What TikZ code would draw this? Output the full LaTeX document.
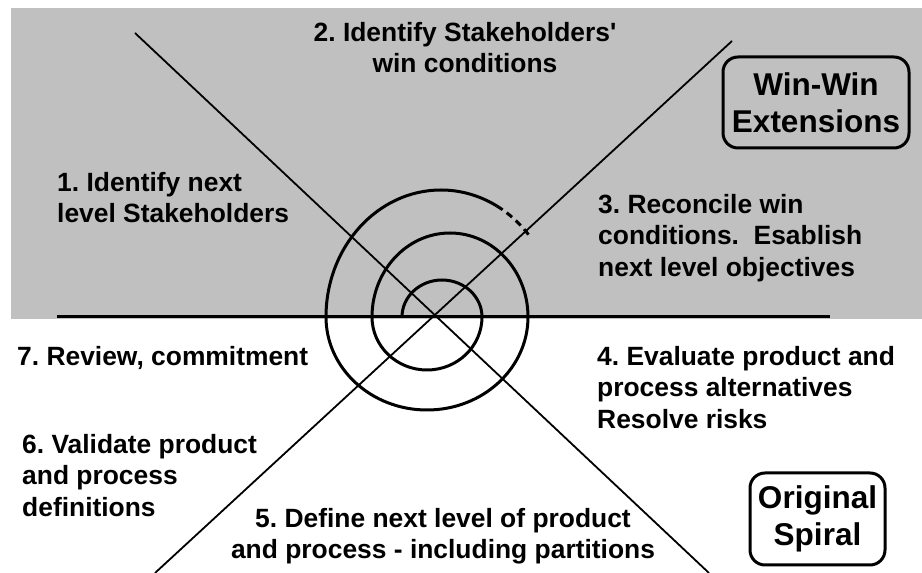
\documentclass[tikz,border=0pt]{standalone}
\usepackage{fontspec}
\setmainfont{Liberation Sans}
\frenchspacing
\definecolor{panelgray}{RGB}{192,192,192}
\tikzset{
    steptext/.style={font=\bfseries\fontsize{26.4}{31.5}\selectfont, inner sep=0pt, align=left, anchor=north west},
    tagbox/.style={draw, line width=3pt, rounded corners=15pt, align=center, inner sep=0pt, font=\bfseries\fontsize{31.5}{37}\selectfont},
    spiral/.style={line width=3pt},
    axis/.style={line width=1.8pt}
}
\begin{document}
\begin{tikzpicture}[x=1pt, y=1pt]
        \useasboundingbox (0,0) rectangle (922,573);
        \fill[panelgray] (11,254) rectangle (922,565);
        % horizontal line
        \draw[line width=3pt] (57,256) -- (830,256);
        % diagonal lines
        \draw[axis] (135,540) -- (709,0);
        \draw[axis] (732,532) -- (155,0);
        % spiral from the centre outwards
        \draw[spiral] (402,256)
            arc[start angle=180, end angle=0, x radius=40, y radius=37]
            arc[start angle=0, end angle=-180, x radius=55, y radius=53]
            arc[start angle=180, end angle=0, x radius=78, y radius=84]
            arc[start angle=0, end angle=-180, x radius=101, y radius=93]
            arc[start angle=180, end angle=61, x radius=115, y radius=127] coordinate (spiralend);
        \draw[spiral, dash pattern=on 7pt off 5pt] (spiralend)
            arc[start angle=61, end angle=39, x radius=115, y radius=127];
        % steps of the cycle
        \node[steptext] (stepone) at (57,404) {\strut 1. Identify next\\level Stakeholders};
        \node[steptext, align=center, anchor=north] (steptwo) at (465,554) {\strut 2. Identify Stakeholders\textquotesingle\\win conditions};
        \node[steptext] (stepthree) at (598,382) {\strut 3. Reconcile win\\conditions.\ \ Esablish\\next level objectives};
        \node[steptext] (stepfour) at (597,230) {\strut 4. Evaluate product and\\process alternatives\\Resolve risks};
        \node[steptext, align=center, anchor=north] (stepfive) at (443,68) {\strut 5. Define next level of product\\and process - including partitions};
        \node[steptext] (stepsix) at (22,142) {\strut 6. Validate product\\and process\\definitions};
        \node[steptext] (stepseven) at (17,230) {\strut 7. Review, commitment};
        % labels of the two halves
        \node[tagbox, minimum width=186pt, minimum height=91pt] (winwin) at (816,470.5) {Win-Win\\Extensions};
        \node[tagbox, minimum width=135pt, minimum height=92pt] (original) at (817.5,54) {Original\\Spiral};
\end{tikzpicture}
\end{document}
